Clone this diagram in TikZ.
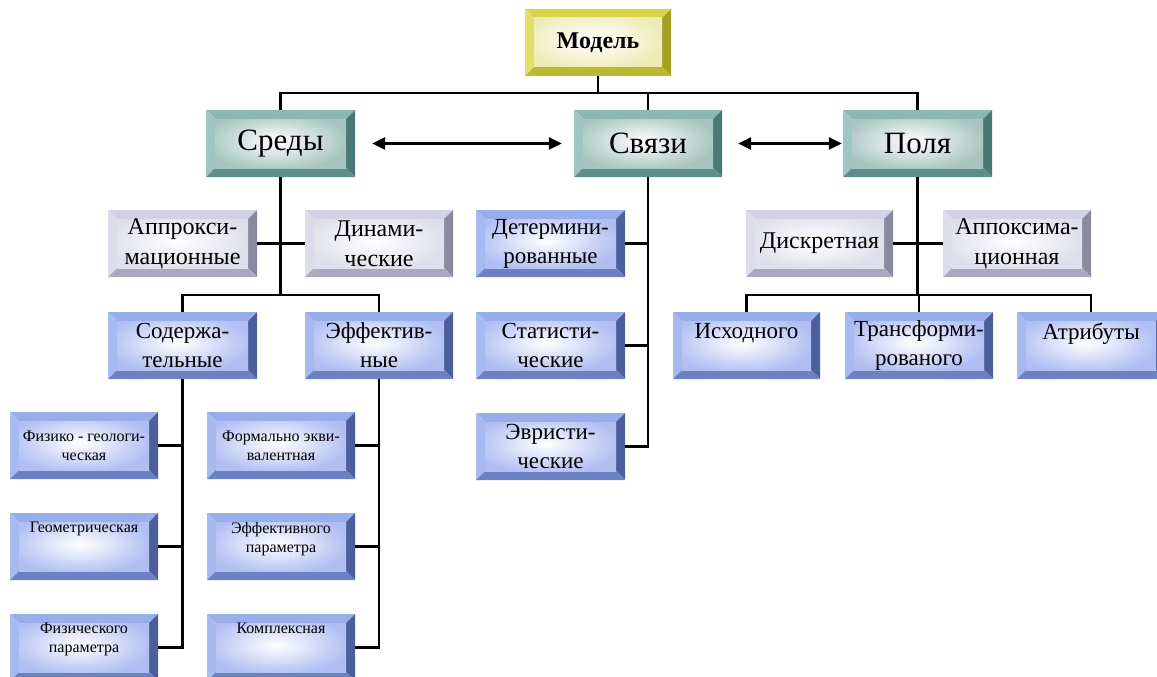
\documentclass[tikz,border=0pt]{standalone}
\usepackage{fontspec}
\setmainfont{Liberation Serif}
\newfontfamily\tms{Liberation Serif}
\usetikzlibrary{arrows.meta,calc}
\definecolor{ytop}{HTML}{D8D44A}\definecolor{yleft}{HTML}{E2DE6A}\definecolor{yright}{HTML}{A4A024}\definecolor{ybot}{HTML}{BCB832}\definecolor{yin}{HTML}{EEEBB8}
\definecolor{ttop}{HTML}{8CB8B4}\definecolor{tleft}{HTML}{9EC6C2}\definecolor{tright}{HTML}{4A7874}\definecolor{tbot}{HTML}{5E8E8A}\definecolor{tin}{HTML}{A6C4C0}
\definecolor{ltop}{HTML}{D2D2E4}\definecolor{lleft}{HTML}{DCDCEA}\definecolor{lright}{HTML}{8A8A9E}\definecolor{lbot}{HTML}{AAAABE}\definecolor{lin}{HTML}{DEDEEC}
\definecolor{btop}{HTML}{98AEEA}\definecolor{bleft}{HTML}{A6BAF0}\definecolor{bright}{HTML}{4C5E9C}\definecolor{bbot}{HTML}{6C80C4}\definecolor{bin}{HTML}{B0BEF2}
\tikzset{
  bvtop/.style={fill=btop}, bvleft/.style={fill=bleft}, bvright/.style={fill=bright}, bvbot/.style={fill=bbot}, bvin/.style={outer color=bin},
  bevel/.style={draw=none, minimum width=148pt, minimum height=67pt, inner sep=0pt, align=center,
    path picture={
      \path (path picture bounding box.north west) coordinate (@a)
            (path picture bounding box.north east) coordinate (@b)
            (path picture bounding box.south east) coordinate (@c)
            (path picture bounding box.south west) coordinate (@d);
      \path ([shift={(9pt,-9pt)}]@a) coordinate (@ia)
            ([shift={(-9pt,-9pt)}]@b) coordinate (@ib)
            ([shift={(-9pt,9pt)}]@c) coordinate (@ic)
            ([shift={(9pt,9pt)}]@d) coordinate (@id);
      \fill[bvtop] (@a) -- (@b) -- (@ib) -- (@ia) -- cycle;
      \fill[bvleft] (@a) -- (@ia) -- (@id) -- (@d) -- cycle;
      \fill[bvright] (@b) -- (@c) -- (@ic) -- (@ib) -- cycle;
      \fill[bvbot] (@d) -- (@id) -- (@ic) -- (@c) -- cycle;
      \begin{scope}
        \clip (@ia) rectangle (@ic);
        \shade[inner color=white, bvin] ([shift={(-12pt,8pt)}]@ia) rectangle ([shift={(3pt,-3pt)}]@ic);
      \end{scope}
    }},
  yel/.style={bevel, bvtop/.style={fill=ytop}, bvleft/.style={fill=yleft}, bvright/.style={fill=yright}, bvbot/.style={fill=ybot}, bvin/.style={outer color=yin}},
  teal/.style={bevel, bvtop/.style={fill=ttop}, bvleft/.style={fill=tleft}, bvright/.style={fill=tright}, bvbot/.style={fill=tbot}, bvin/.style={outer color=tin}},
  lav/.style={bevel, bvtop/.style={fill=ltop}, bvleft/.style={fill=lleft}, bvright/.style={fill=lright}, bvbot/.style={fill=lbot}, bvin/.style={outer color=lin},
     font=\tms\fontsize{24}{30}\selectfont},
  blu/.style={bevel, font=\tms\fontsize{23}{29}\selectfont},
  sml/.style={bevel, font=\tms\fontsize{16}{19}\selectfont},
  top/.style={teal, font=\tms\fontsize{31}{36}\selectfont},
  conn/.style={draw=black, line width=2.5pt},
  dbl/.style={draw=black, line width=2.5pt, {Triangle[length=13pt,width=12pt]}-{Triangle[length=13pt,width=12pt]}},
}
\begin{document}
\begin{tikzpicture}[x=1pt,y=-1pt]
\useasboundingbox (0,0) rectangle (1157,677);
% nodes
\node[yel, minimum width=146pt, font=\tms\fontsize{24}{28}\selectfont\bfseries] (model) at (598,42.5) {Модель};
\node[top, minimum width=149pt] (sredy) at (280.5,143.5) {Среды};
\node[top] (svyazi) at (648,143.5) {Связи};
\node[top, minimum width=149pt] (polya) at (917.5,143.5) {Поля};
\node[lav, minimum width=149pt] (approx) at (182.5,243.5) {Аппрокси-\\мационные};
\node[lav] (dinam) at (379,243.5) {Динами-\\ческие};
\node[lav, minimum width=147pt] (diskr) at (819.5,243.5) {Дискретная};
\node[lav] (appoks) at (1017,243.5) {Аппоксима-\\ционная};
\node[blu, minimum width=149pt] (soder) at (182.5,345.5) {Содержа-\\тельные};
\node[blu] (effekt) at (379,345.5) {Эффектив-\\ные};
\node[blu, minimum width=149pt] (determ) at (550.5,243.5) {Детермини-\\рованные};
\node[blu, minimum width=149pt] (stat) at (550.5,345.5) {Статисти-\\ческие};
\node[blu, minimum width=149pt] (evr) at (550.5,446.5) {Эвристи-\\ческие};
\node[blu, minimum width=147pt] (ishod) at (746.5,345.5) {Исходного\\~};
\node[blu] (transf) at (919,345.5) {Трансформи-\\рованого};
\node[blu] (atrib) at (1091,345.5) {Атрибуты\\~};
\node[sml] (fizgeo) at (84,445.5) {Физико - геологи-\\ческая};
\node[sml] (geom) at (84,546.5) {Геометрическая\\~\\~};
\node[sml] (fizpar) at (84,647.5) {Физического\\параметра\\~};
\node[sml] (formal) at (281,445.5) {Формально экви-\\валентная};
\node[sml] (effpar) at (281,546.5) {Эффективного\\параметра\\~};
\node[sml] (kompl) at (281,647.5) {Комплексная\\~\\~};
% connectors
\draw[conn] (model.south) -- ++(0,17) coordinate (m1);
\draw[conn] (m1) -| (sredy.north);
\draw[conn] (m1) -| (svyazi.north);
\draw[conn] (m1) -| (polya.north);
\draw[dbl, shorten <=17pt, shorten >=12pt] (sredy.east) -- (svyazi.west);
\draw[dbl, shorten <=16pt, shorten >=1pt] (svyazi.east) -- (polya.west);
\draw[conn] (sredy.south) -- ++(0,118) coordinate (s1);
\draw[conn] (approx.east) -- (dinam.west);
\draw[conn] (s1) -| (soder.north);
\draw[conn] (s1) -| (effekt.north);
\draw[conn] (soder.south) |- (fizpar.east);
\draw[conn] (fizgeo.east) -- (fizgeo.east -| soder.south);
\draw[conn] (geom.east) -- (geom.east -| soder.south);
\draw[conn] (effekt.south) |- (kompl.east);
\draw[conn] (formal.east) -- (formal.east -| effekt.south);
\draw[conn] (effpar.east) -- (effpar.east -| effekt.south);
\draw[conn] (svyazi.south) |- (evr.east);
\draw[conn] (determ.east) -- (determ.east -| svyazi.south);
\draw[conn] (stat.east) -- (stat.east -| svyazi.south);
\draw[conn] (polya.south) -- ++(0,118) coordinate (p1);
\draw[conn] (diskr.east) -- (appoks.west);
\draw[conn] (p1) -| (ishod.north);
\draw[conn] (p1) -| (transf.north);
\draw[conn] (p1) -| (atrib.north);
\end{tikzpicture}
\end{document}
